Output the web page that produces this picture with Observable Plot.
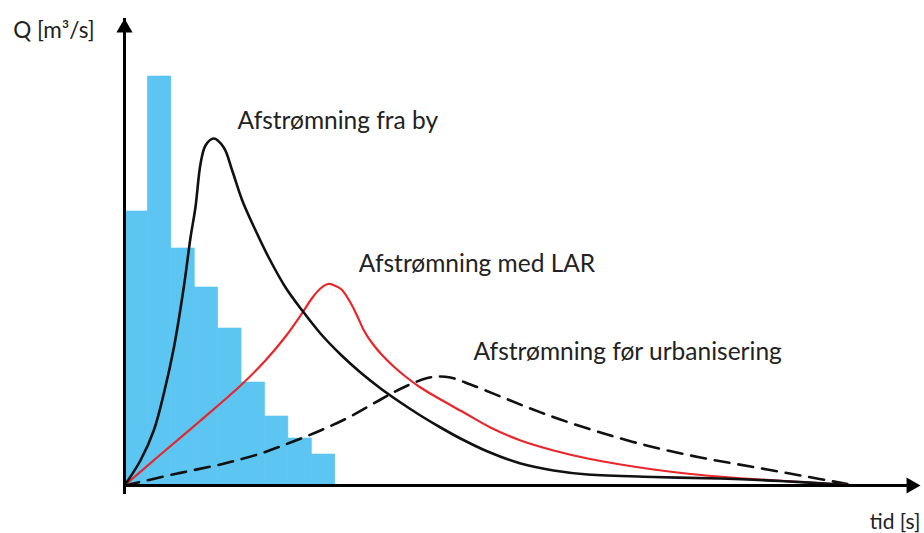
<!DOCTYPE html>
<html>
<head>
<meta charset="utf-8">
<script src="https://cdn.jsdelivr.net/npm/d3@7"></script>
<script src="https://cdn.jsdelivr.net/npm/@observablehq/plot@0.6"></script>
<style>
  html, body { margin: 0; padding: 0; background: #fff; }
  #chart svg { display: block; }
</style>
</head>
<body>
<div id="chart"></div>
<script>
// Rainfall (hyetograph) bars, one per time step
const rainSteps = [0, 1, 2, 3, 4, 5, 6, 7, 8];
const rainValues = [27.4, 40.9, 23.7, 19.8, 15.7, 10.3, 6.9, 4.7, 3.1];

// Runoff from city (black)
const byT = [0, 0.68, 1.25, 1.68, 2.11, 2.53, 2.82, 3.03, 3.25, 3.46, 3.81, 4.24, 4.60, 5.03, 5.60, 6.16, 6.88, 7.59, 8.37, 9.23, 10.08, 10.94, 11.79, 12.64, 13.50, 14.35, 15.51, 16.92, 18.33, 19.78, 22.6, 25.46, 28.02, 30.59];
const byQ = [0, 2.5, 5.5, 9.2, 13.8, 19.8, 24.8, 27.8, 32.2, 34.0, 34.7, 33.8, 31.5, 28.5, 25.5, 22.8, 19.8, 17.5, 15.2, 13.1, 11.3, 9.7, 8.3, 7.0, 5.8, 4.7, 3.4, 2.2, 1.5, 1.1, 0.85, 0.7, 0.45, 0.1];

// Runoff with LAR (red)
const larT = [0, 1.54, 3.25, 4.96, 6.02, 6.88, 7.52, 8.03, 8.37, 8.69, 8.97, 9.27, 9.65, 9.95, 10.25, 10.59, 10.98, 11.45, 12.0, 12.64, 13.5, 14.57, 15.63, 16.92, 18.33, 19.78, 21.19, 22.6, 24.18, 25.89, 28.15, 30.88];
const larQ = [0, 3.1, 6.5, 10.0, 12.5, 14.9, 17.0, 18.8, 19.7, 20.15, 20.0, 19.6, 18.3, 16.9, 15.4, 14.2, 13.1, 12.0, 10.9, 9.8, 8.6, 7.2, 5.8, 4.5, 3.5, 2.7, 2.1, 1.6, 1.15, 0.8, 0.45, 0.05];

// Runoff before urbanisation (dashed)
const forT = [0, 2.26, 4.27, 5.81, 7.09, 8.37, 9.65, 10.94, 12.0, 12.86, 13.37, 13.92, 14.78, 16.06, 17.34, 18.62, 20.33, 22.47, 24.6, 26.74, 28.88, 30.88];
const forQ = [0, 1.2, 2.2, 3.2, 4.3, 5.5, 6.9, 8.6, 9.9, 10.7, 10.9, 10.8, 10.1, 8.9, 7.7, 6.6, 5.3, 3.9, 2.8, 1.9, 1.0, 0.15];

// Curve labels
const labelTexts = ["Afstrømning fra by", "Afstrømning med LAR", "Afstrømning før urbanisering"];
const labelT = [4.83, 10.01, 14.91];
const labelQ = [36.4, 22.1, 13.35];

// Axis titles
const yTitle = "Q [m³/s]";
const xTitle = "tid [s]";

const xMax = 34, yMax = 46.7;

const bars = rainSteps.map((s, i) => ({x1: s, x2: s + 1, q: rainValues[i]}));
const by = byT.map((t, i) => ({t, q: byQ[i]}));
const lar = larT.map((t, i) => ({t, q: larQ[i]}));
const før = forT.map((t, i) => ({t, q: forQ[i]}));
const labels = labelTexts.map((text, i) => ({text, t: labelT[i], q: labelQ[i]}));

const font = "Lato, 'Open Sans', sans-serif";
const blue = "#5cc5f2";

const chart = Plot.plot({
  width: 924,
  height: 533,
  marginLeft: 124,
  marginRight: 4,
  marginTop: 18,
  marginBottom: 48,
  style: {fontFamily: font, background: "#fff", overflow: "visible"},
  x: {domain: [0, xMax], axis: null},
  y: {domain: [0, yMax], axis: null},
  marks: [
    Plot.rectY(bars, {x1: "x1", x2: "x2", y: "q", fill: blue, stroke: blue, strokeWidth: 0.6}),
    Plot.line(før, {x: "t", y: "q", stroke: "#111", strokeWidth: 2.6, strokeDasharray: "15,9", curve: "catmull-rom"}),
    Plot.line(lar, {x: "t", y: "q", stroke: "#e8262b", strokeWidth: 2.2, curve: "catmull-rom"}),
    Plot.line(by, {x: "t", y: "q", stroke: "#111", strokeWidth: 2.6, curve: "catmull-rom"}),
    Plot.ruleX([0], {y1: 0, y2: yMax, stroke: "#000", strokeWidth: 3, insetTop: 9}),
    Plot.ruleY([0], {x1: 0, x2: xMax, stroke: "#000", strokeWidth: 3, insetRight: 9}),
    Plot.dot([{t: 0, q: yMax}], {x: "t", y: "q", symbol: "triangle", r: 6, fill: "#000", stroke: null, dy: 9.3}),
    Plot.dot([{t: xMax, q: 0}], {x: "t", y: "q", symbol: "triangle", r: 6, fill: "#000", stroke: null, rotate: 90, dx: -9.3}),
    Plot.text(labels, {x: "t", y: "q", text: "text", textAnchor: "start", lineAnchor: "middle", fontSize: 24.5, fill: "#222"}),
    Plot.text([{t: -4.75, q: 45.5, text: yTitle}], {x: "t", y: "q", text: "text", textAnchor: "start", lineAnchor: "middle", fontSize: 22.5, fill: "#222"}),
    Plot.text([{t: 34.0, q: -3.65, text: xTitle}], {x: "t", y: "q", text: "text", textAnchor: "end", lineAnchor: "middle", fontSize: 21, fill: "#222"})
  ]
});

document.getElementById("chart").appendChild(chart);
</script>
</body>
</html>
